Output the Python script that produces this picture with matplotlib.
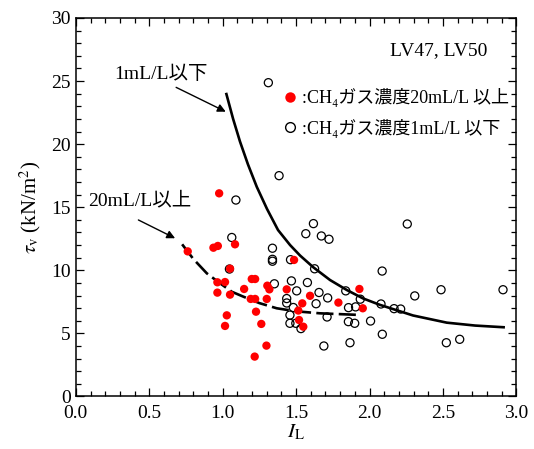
import matplotlib.pyplot as plt
from matplotlib.lines import Line2D
from matplotlib.ticker import MultipleLocator, FormatStrFormatter

plt.rcParams['font.family'] = ['Liberation Serif', 'DejaVu Serif', 'Noto Sans CJK JP']
plt.rcParams['mathtext.fontset'] = 'stix'

# CH4 <= 1 mL/L (open circles)
low_il = [1.311, 1.384, 1.090, 1.618, 1.566, 1.672, 1.724, 2.257, 1.062, 1.339,
          1.339, 1.339, 1.462, 1.046, 1.626, 2.086, 1.352, 1.468, 1.577, 1.504,
          1.656, 1.838, 1.436, 1.436, 1.481, 1.636, 1.715, 1.937, 1.857, 1.905,
          2.078, 2.167, 2.212, 2.308, 2.487, 2.909, 1.458, 1.458, 1.498, 1.533,
          1.711, 1.856, 1.899, 2.007, 2.087, 1.867, 1.689, 2.523, 2.614]
low_tau = [24.87, 17.50, 15.57, 13.70, 12.90, 12.72, 12.46, 13.67, 12.60, 11.75,
           10.87, 10.72, 10.84, 10.10, 10.12, 9.94, 8.93, 9.16, 9.03, 8.37,
           8.24, 8.37, 7.76, 7.41, 7.05, 7.35, 7.81, 7.71, 7.04, 7.10,
           7.33, 6.96, 6.93, 7.97, 8.46, 8.46, 6.45, 5.80, 5.80, 5.38,
           6.30, 5.93, 5.80, 5.98, 4.93, 4.26, 4.00, 4.26, 4.53]

# CH4 >= 20 mL/L (red dots)
high_il = [0.976, 0.762, 0.937, 0.967, 1.084, 1.050, 0.964, 1.016, 0.964, 1.050,
           1.028, 1.016, 1.198, 1.221, 1.146, 1.191, 1.221, 1.304, 1.318, 1.300,
           1.227, 1.263, 1.298, 1.218, 1.436, 1.486, 1.595, 1.542, 1.515, 1.520,
           1.549, 1.931, 1.788, 1.954]
high_tau = [16.10, 11.50, 11.79, 11.93, 12.06, 10.13, 9.05, 9.07, 8.23, 8.07,
            6.43, 5.59, 9.31, 9.31, 8.52, 7.73, 7.73, 8.78, 8.49, 7.73,
            6.72, 5.75, 4.03, 3.16, 8.49, 10.82, 7.98, 7.38, 6.81, 6.06,
            5.53, 8.52, 7.44, 6.99]

# trend curves
curve_low_x = [1.023, 1.071, 1.118, 1.172, 1.232, 1.302, 1.377, 1.459, 1.527, 1.616,
               1.731, 1.845, 1.956, 2.071, 2.296, 2.526, 2.719, 2.922]
curve_low_y = [24.07, 22.00, 20.20, 18.40, 16.62, 14.86, 13.19, 12.00, 11.17, 10.25,
               9.23, 8.44, 7.77, 7.26, 6.42, 5.85, 5.62, 5.48]
curve_high_x = [0.724, 0.800, 0.892, 0.982, 1.062, 1.141, 1.250, 1.368, 1.500, 1.663, 1.935]
curve_high_y = [12.06, 10.90, 9.76, 8.97, 8.30, 7.91, 7.40, 6.99, 6.75, 6.59, 6.46]

fig = plt.figure(figsize=(5.34, 4.49), dpi=100)
ax = fig.add_axes([0.142, 0.117, 0.825, 0.843])

ax.plot(curve_low_x, curve_low_y, color='k', lw=1.9, solid_capstyle='butt')
ax.plot(curve_high_x, curve_high_y, color='k', lw=1.9, ls=(0, (6.5, 2)))

ax.scatter(low_il, low_tau, s=34, facecolors='none', edgecolors='k', linewidths=0.9, zorder=3)
ax.scatter(high_il, high_tau, s=36, color='red', edgecolors='none', zorder=4)

ax.set_xlim(0, 3.0)
ax.set_ylim(0, 30)
ax.xaxis.set_major_locator(MultipleLocator(0.5))
ax.xaxis.set_minor_locator(MultipleLocator(0.1))
ax.yaxis.set_major_locator(MultipleLocator(5))
ax.yaxis.set_minor_locator(MultipleLocator(1))
ax.xaxis.set_major_formatter(FormatStrFormatter('%.1f'))
ax.tick_params(which='both', direction='in', top=True, right=True, labelsize=14, width=0.9)
ax.tick_params(which='major', length=6)
ax.tick_params(which='minor', length=3.5)
ax.tick_params(axis='x', which='major', pad=6.5)
for s in ax.spines.values():
    s.set_linewidth(1.1)

ax.set_xlabel(r'$I_{\rm L}$', fontsize=15, labelpad=0)
ax.set_ylabel(r'$\tau_{\rm v}$ (kN/m$^2$)', fontsize=15, labelpad=6)

ax.text(2.80, 27.40, 'LV47, LV50', ha='right', va='center', fontsize=14)

ax.text(0.261, 25.55, '1mL/L以下', ha='left', va='center', fontsize=14)
ax.annotate('', xy=(1.021, 22.57), xytext=(0.683, 24.5),
            arrowprops=dict(arrowstyle='-|>', color='k', lw=1, mutation_scale=12,
                            shrinkA=0, shrinkB=0))
ax.text(0.086, 15.57, '20mL/L以上', ha='left', va='center', fontsize=14)
ax.annotate('', xy=(0.676, 12.54), xytext=(0.426, 13.99),
            arrowprops=dict(arrowstyle='-|>', color='k', lw=1, mutation_scale=12,
                            shrinkA=0, shrinkB=0))

handles = [
    Line2D([], [], ls='none', marker='o', markersize=7.5, color='red', markeredgecolor='none'),
    Line2D([], [], ls='none', marker='o', markersize=7, markerfacecolor='none',
           markeredgecolor='k', markeredgewidth=1),
]
labels = [':CH₄ガス濃度20mL/L 以上', ':CH₄ガス濃度1mL/L 以下']
ax.legend(handles, labels, loc='upper left', bbox_to_anchor=(1.408, 24.46),
          bbox_transform=ax.transData, frameon=False, fontsize=13,
          handlelength=0.8, handletextpad=0.3, borderpad=0, borderaxespad=0,
          labelspacing=0.65)

fig.savefig('out.png', dpi=100)
